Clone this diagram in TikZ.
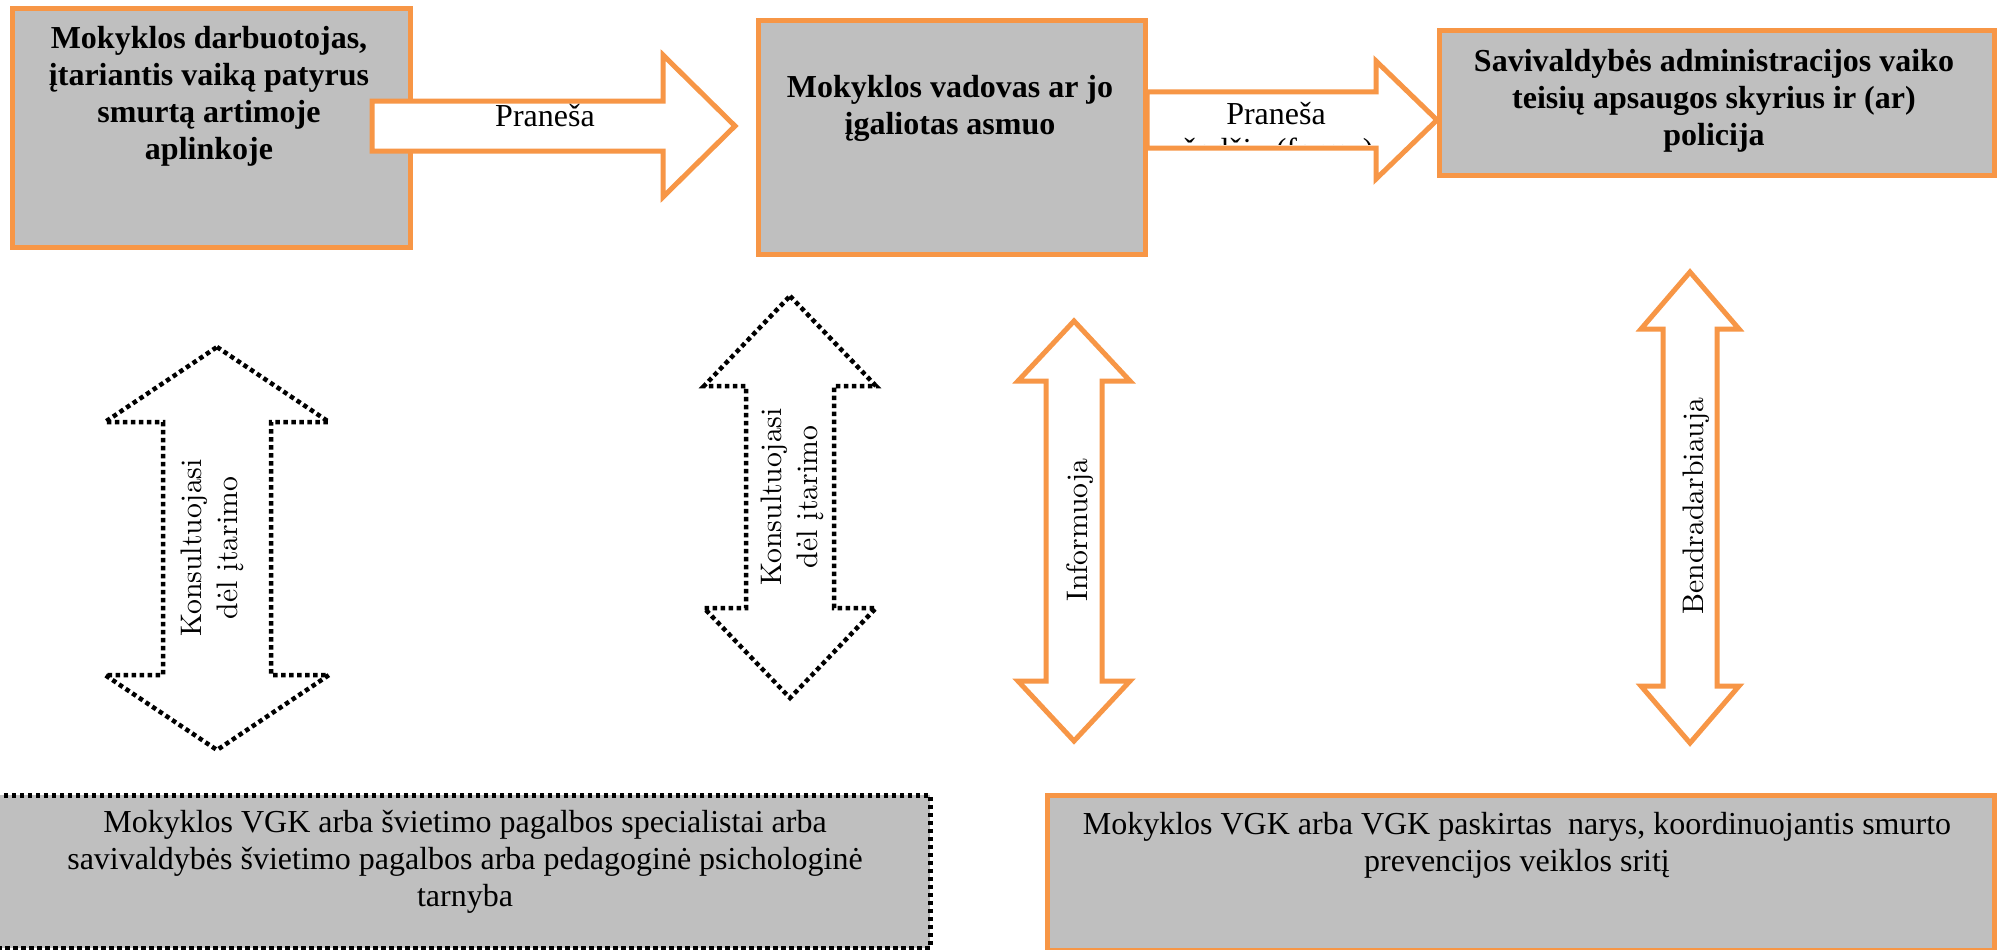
\documentclass[tikz,border=0pt]{standalone}
\usepackage{fontspec}
\newfontfamily\tnr{Liberation Serif}
\newfontfamily\lmten{lmroman10-regular.otf}
\usetikzlibrary{calc}
\definecolor{orng}{HTML}{F79646}
\definecolor{boxgray}{HTML}{BFBFBF}
\tikzset{
  obox/.style={draw=orng, line width=5pt, fill=boxgray, inner sep=0pt},
  dbox/.style={draw=black, line width=4.5pt, dash pattern=on 4.5pt off 3.5pt, fill=boxgray, inner sep=0pt},
  oarrow/.style={draw=orng, line width=5pt, fill=white, line join=miter},
  darrow/.style={draw=black, line width=4.5pt, dash pattern=on 4.5pt off 3.5pt, fill=white},
  boldtxt/.style={font=\tnr\bfseries\fontsize{32}{37}\selectfont, align=center, inner sep=0pt},
  regtxt/.style={font=\tnr\fontsize{32}{37}\selectfont, align=center, inner sep=0pt},
  vtxt/.style={font=\lmten\fontsize{29.7}{36}\selectfont, align=center, rotate=90, inner sep=0pt},
}
% horizontal block arrow: style, tail, tip, half shaft, half head, head length
\newcommand\harrow[6]{%
  \draw[#1] ($(#2)+(0,-#4)$) -- ($(#3)+(-#6,-#4)$) -- ($(#3)+(-#6,-#5)$) -- (#3)
    -- ($(#3)+(-#6,#5)$) -- ($(#3)+(-#6,#4)$) -- ($(#2)+(0,#4)$) -- cycle;}
% vertical double block arrow: style, top tip, bottom tip, half shaft, half head, head length
\newcommand\varrow[6]{%
  \draw[#1] (#2) -- ($(#2)+(#5,#6)$) -- ($(#2)+(#4,#6)$) -- ($(#3)+(#4,-#6)$)
    -- ($(#3)+(#5,-#6)$) -- (#3) -- ($(#3)+(-#5,-#6)$) -- ($(#3)+(-#4,-#6)$)
    -- ($(#2)+(-#4,#6)$) -- ($(#2)+(-#5,#6)$) -- cycle;}
\begin{document}
\begin{tikzpicture}[x=1pt,y=-1pt]
\useasboundingbox (0,0) rectangle (1998,950);
\fill[white] (0,0) rectangle (1998,950);

% top boxes
\node[obox, anchor=north west, minimum width=398pt, minimum height=239pt] (b1) at (10,6) {};
\node[obox, anchor=north west, minimum width=387pt, minimum height=234pt] (b2) at (756,18) {};
\node[obox, anchor=north west, minimum width=555pt, minimum height=145pt] (b3) at (1437,28) {};

\node[boldtxt] (t1) at (209,96) {Mokyklos darbuotojas,\\įtariantis vaiką patyrus\\smurtą artimoje\\aplinkoje};
\node[boldtxt] (t2) at (950,108) {Mokyklos vadovas ar jo\\įgaliotas asmuo};
\node[boldtxt] (t3) at (1714,101) {Savivaldybės administracijos vaiko\\teisių apsaugos skyrius ir (ar)\\policija};

% horizontal arrows
\coordinate (a1s) at (372,126);
\coordinate (a1t) at (735,126);
\harrow{oarrow}{a1s}{a1t}{25}{71}{72}
\node[regtxt] (p1) at (545,116) {Praneša};

\coordinate (a2s) at (1147,120);
\coordinate (a2t) at (1437,120);
\harrow{oarrow}{a2s}{a2t}{28}{59}{61}
\node[regtxt] (p2) at (1276,114) {Praneša};
\begin{scope}
  \clip (1150,128) rectangle (1372,144.5);
  \node[regtxt, anchor=base] (p2b) at (1278,160) {žodžiu (forma)};
\end{scope}

% vertical arrows
\coordinate (v1t) at (217,347);
\coordinate (v1b) at (217,750);
\varrow{darrow}{v1t}{v1b}{54}{112}{75}
\node[vtxt] (k1) at (212,548) {Konsultuojasi\\dėl įtarimo};

\coordinate (v2t) at (790,296);
\coordinate (v2b) at (790,698);
\varrow{darrow}{v2t}{v2b}{44}{86}{90}
\node[vtxt] (k2) at (792,497) {Konsultuojasi\\dėl įtarimo};

\coordinate (v3t) at (1074,321);
\coordinate (v3b) at (1074,741);
\varrow{oarrow}{v3t}{v3b}{28}{56}{60}
\node[vtxt] (inf) at (1080,530) {Informuoja};

\coordinate (v4t) at (1690,272);
\coordinate (v4b) at (1690,743);
\varrow{oarrow}{v4t}{v4b}{27}{49}{57}
\node[vtxt] (bnd) at (1696,506) {Bendradarbiauja};

% bottom boxes
\node[dbox, anchor=north west, minimum width=933pt, minimum height=153pt] (b4) at (-5,793) {};
\node[regtxt] (t4) at (465,862) {Mokyklos VGK arba švietimo pagalbos specialistai arba\\savivaldybės švietimo pagalbos arba pedagoginė psichologinė\\tarnyba};

\node[obox, anchor=north west, minimum width=947pt, minimum height=155pt] (b5) at (1045,793) {};
\node[regtxt] (t5) at (1517,845) {Mokyklos VGK arba VGK paskirtas~ narys, koordinuojantis smurto\\prevencijos veiklos sritį};
\end{tikzpicture}
\end{document}
